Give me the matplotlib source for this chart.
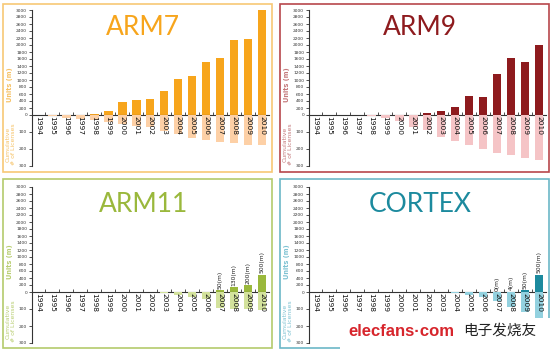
import matplotlib.pyplot as plt
from matplotlib.patches import Rectangle

W, H = 553, 351

years = list(range(1994, 2011))

# units shipped (millions)
arm7_units = [3, 5, 5, 8, 40, 125, 360, 420, 445, 685, 1015, 1120, 1520, 1640, 2130, 2160, 3000]
arm9_units = [0, 0, 0, 0, 0, 0, 0, 5, 45, 105, 235, 550, 520, 1160, 1640, 1520, 2010]
arm11_units = [0, 0, 0, 0, 0, 0, 0, 0, 0, 0, 0, 0, 0, 50, 130, 200, 500]
cortex_units = [0, 0, 0, 0, 0, 0, 0, 0, 0, 0, 0, 0, 0, 0, 4, 50, 500]

# cumulative number of licenses
arm7_lic = [0, 5, 15, 22, 30, 40, 55, 62, 72, 95, 113, 138, 150, 159, 167, 174, 178]
arm9_lic = [0, 0, 0, 2, 4, 18, 33, 68, 90, 128, 155, 175, 200, 223, 235, 252, 264]
arm11_lic = [0, 0, 0, 0, 0, 0, 0, 0, 0, 8, 18, 28, 40, 95, 100, 102, 105]
cortex_lic = [0, 0, 0, 0, 0, 0, 0, 0, 0, 0, 5, 17, 30, 50, 90, 118, 167]

arm11_notes = {2007: '50(m)', 2008: '130(m)', 2009: '200(m)', 2010: '500(m)'}
cortex_notes = {2007: '0(m)', 2008: '4(m)', 2009: '50(m)', 2010: '500(m)'}

unit_ticks = list(range(0, 3001, 200))
lic_ticks = [100, 200, 300]

panels = [
    # name, units, licenses, notes, origin, main, light, label colour, border
    ('ARM7', arm7_units, arm7_lic, None, (0, 0), '#F7A51C', '#FDD0A6', '#F6C266', '#F7C875'),
    ('ARM9', arm9_units, arm9_lic, None, (277, 0), '#8E1B1E', '#F5C4C6', '#C47A7C', '#B7474B'),
    ('ARM11', arm11_units, arm11_lic, arm11_notes, (0, 176), '#9AB83C', '#D3E29C', '#B9CE72', '#B4CB6C'),
    ('CORTEX', cortex_units, cortex_lic, cortex_notes, (277, 176), '#1C8A9E', '#93D1DF', '#7EC2D2', '#6CB7C7'),
]


def px_axes(fig, x, y, w, h):
    return fig.add_axes([x / W, 1 - (y + h) / H, w / W, h / H])


def style_axis(ax):
    for side in ['top', 'right', 'bottom']:
        ax.spines[side].set_visible(False)
    ax.spines['left'].set_linewidth(0.8)
    ax.spines['left'].set_color('#333333')
    ax.tick_params(axis='y', labelsize=3.2, length=2.5, width=0.6, pad=1, colors='#333333')
    ax.set_xlim(1994 - 0.45, 2010 + 0.5)
    ax.set_facecolor('none')


fig = plt.figure(figsize=(W / 100, H / 100), dpi=100)

for name, units, lic, notes, (ox, oy), main, light, lab_col, border in panels:
    dy = 0 if oy == 0 else 1
    fig.add_artist(Rectangle(((ox + 3) / W, 1 - (oy + 172) / H), 269 / W, (168 + dy) / H,
                             transform=fig.transFigure, fill=False, edgecolor=border, linewidth=1.2))

    top = px_axes(fig, ox + 32, oy + 10 + dy, 237, 105)
    bot = px_axes(fig, ox + 32, oy + 115 + dy, 237, 51)

    bot.bar(years, lic, width=0.62, color=light, zorder=1)
    bot.set_ylim(300, 0)
    bot.set_yticks(lic_ticks)
    style_axis(bot)
    bot.set_xticks([])
    for yr in years:
        bot.text(yr, 3, str(yr), rotation=270, ha='center', va='top', fontsize=5.4,
                 color='#111111', zorder=3)

    top.bar(years, units, width=0.62, color=main, zorder=2)
    top.set_ylim(0, 3000)
    top.set_yticks(unit_ticks)
    style_axis(top)
    top.spines['bottom'].set_visible(True)
    top.spines['bottom'].set_linewidth(0.8)
    top.spines['bottom'].set_color('#333333')
    top.set_xticks([y + 0.5 for y in years[:-1]])
    top.set_xticklabels([])
    top.tick_params(axis='x', direction='in', length=2, width=0.6, colors='#333333')
    top.set_title(name, fontsize=19, color=main, family='Lato', x=0.47, y=0.68)

    if notes:
        for yr, val in zip(years, units):
            if yr in notes:
                top.text(yr, val + 40, notes[yr], rotation=90, ha='center', va='bottom',
                         fontsize=4.3, color='#222222')

    fig.text((ox + 10) / W, 1 - (oy + 85 + dy) / H, 'Units (m)', rotation=90, ha='center',
             va='center', fontsize=4.8, color=lab_col, fontweight='bold')
    fig.text((ox + 11) / W, 1 - (oy + 144 + dy) / H, 'Cumulative\n# of Licenses', rotation=90,
             ha='center', va='center', fontsize=4.4, color=lab_col, linespacing=1.0)

# watermark
fig.add_artist(Rectangle((340 / W, 0), 213 / W, 33 / H, transform=fig.transFigure,
                         facecolor='white', edgecolor='none'))
fig.text(401 / W, 1 - 331 / H, 'elecfans·com', ha='center', va='center', fontsize=12,
         color='#D7252C', fontweight='bold', family='Liberation Sans')
fig.text(500 / W, 1 - 331 / H, '电子发烧友', ha='center', va='center', fontsize=10.5,
         color='#222222', family=['Noto Sans CJK SC', 'DejaVu Sans'])

fig.savefig('out.png', dpi=100)
